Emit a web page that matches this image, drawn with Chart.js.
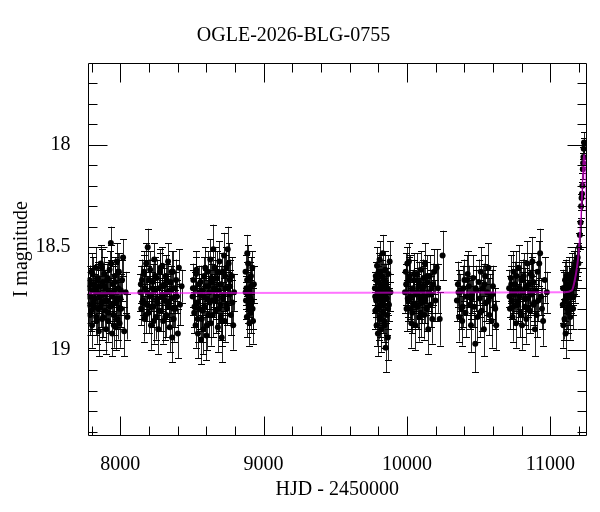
<!DOCTYPE html>
<html>
<head>
<meta charset="utf-8">
<script src="https://cdn.jsdelivr.net/npm/chart.js"></script>
<style>
  html, body { margin: 0; padding: 0; background: #fff; }
  canvas { display: block; }
</style>
</head>
<body>
<canvas id="myChart" width="600" height="512"></canvas>
<script>
// photometry, one set of arrays per observing season (HJD - 2450000, I mag, error)
const t1 = [7776, 7781, 7786, 7790, 7795, 7800, 7804, 7809, 7814, 7818, 7823, 7828, 7832, 7837, 7842, 7846, 7851, 7856, 7860, 7865, 7870, 7874, 7879, 7884, 7888, 7893, 7898, 7902, 7907, 7912, 7916, 7921, 7926, 7930, 7935, 7940, 7944, 7949, 7954, 7958, 7963, 7968, 7972, 7977, 7982, 7986, 7991, 7996, 8001, 8007, 8013, 8020, 8028, 8038, 8050,
            7778, 7788, 7798, 7807, 7816, 7826, 7835, 7844, 7853, 7863, 7872, 7881, 7891, 7900, 7909, 7919, 7928, 7937, 7947, 7956, 7965, 7975, 7984, 7994, 8004];
const m1 = [18.70, 18.78, 18.66, 18.83, 18.74, 18.62, 18.88, 18.71, 18.79, 18.68,
            18.75, 18.60, 18.84, 18.72, 18.66, 18.80, 18.91, 18.69, 18.74, 18.58,
            18.77, 18.85, 18.67, 18.73, 18.63, 18.81, 18.70, 18.90, 18.76, 18.65,
            18.86, 18.72, 18.61, 18.79, 18.48, 18.74, 18.92, 18.68, 18.83, 18.71,
            18.64, 18.89, 18.77, 18.57, 18.85, 18.70, 18.62, 18.87, 18.75, 18.80,
            18.66, 18.55, 18.91, 18.72, 18.84,
            18.74, 18.68, 18.81, 18.63, 18.77, 18.70, 18.86, 18.65, 18.73, 18.79,
            18.60, 18.84, 18.69, 18.76, 18.66, 18.82, 18.72, 18.58, 18.78, 18.88,
            18.67, 18.75, 18.62, 18.80, 18.71];
const e1 = [0.08, 0.09, 0.07, 0.10, 0.08, 0.09, 0.11, 0.07, 0.08, 0.09,
            0.08, 0.10, 0.09, 0.07, 0.08, 0.10, 0.12, 0.08, 0.07, 0.09,
            0.08, 0.10, 0.09, 0.07, 0.08, 0.09, 0.08, 0.12, 0.09, 0.08,
            0.10, 0.07, 0.09, 0.08, 0.08, 0.08, 0.11, 0.09, 0.10, 0.08,
            0.09, 0.11, 0.08, 0.09, 0.10, 0.08, 0.09, 0.12, 0.08, 0.09,
            0.10, 0.09, 0.12, 0.10, 0.11,
            0.08, 0.09, 0.10, 0.08, 0.09, 0.07, 0.11, 0.08, 0.09, 0.10,
            0.09, 0.10, 0.08, 0.09, 0.08, 0.10, 0.07, 0.09, 0.08, 0.11,
            0.09, 0.08, 0.09, 0.10, 0.08];

const t2 = [8141, 8147, 8152, 8158, 8164, 8169, 8175, 8181, 8186, 8192, 8198, 8203, 8209, 8215, 8220, 8226, 8232, 8237, 8243, 8249, 8254, 8260, 8266, 8271, 8277, 8283, 8288, 8294, 8300, 8305, 8311, 8317, 8322, 8328, 8334, 8339, 8345, 8351, 8356, 8362, 8368, 8373, 8379, 8385, 8390, 8396, 8402, 8409, 8417, 8428,
            8144, 8155, 8166, 8178, 8189, 8200, 8212, 8223, 8235, 8246, 8257, 8269, 8280, 8291, 8303, 8314, 8325, 8337, 8348, 8359, 8371, 8382];
const m2 = [18.72, 18.80, 18.66, 18.76, 18.63, 18.85, 18.70, 18.58, 18.78, 18.50,
            18.82, 18.74, 18.61, 18.88, 18.73, 18.67, 18.79, 18.56, 18.71, 18.84,
            18.65, 18.77, 18.90, 18.70, 18.62, 18.81, 18.74, 18.59, 18.86, 18.68,
            18.76, 18.64, 18.83, 18.72, 18.57, 18.79, 18.89, 18.67, 18.75, 18.94,
            18.62, 18.85, 18.70, 18.80, 18.66, 18.74, 18.92, 18.60, 18.78, 18.69,
            18.68, 18.77, 18.62, 18.83, 18.72, 18.66, 18.79, 18.70, 18.86, 18.64,
            18.75, 18.81, 18.60, 18.73, 18.69, 18.84, 18.66, 18.77, 18.71, 18.62,
            18.80, 18.74];
const e2 = [0.09, 0.08, 0.10, 0.07, 0.09, 0.11, 0.08, 0.10, 0.08, 0.09,
            0.10, 0.07, 0.09, 0.12, 0.08, 0.09, 0.10, 0.08, 0.07, 0.11,
            0.09, 0.08, 0.12, 0.07, 0.09, 0.10, 0.08, 0.09, 0.11, 0.08,
            0.09, 0.10, 0.11, 0.08, 0.09, 0.10, 0.12, 0.08, 0.09, 0.12,
            0.10, 0.11, 0.08, 0.09, 0.10, 0.08, 0.12, 0.09, 0.10, 0.08,
            0.09, 0.08, 0.10, 0.09, 0.08, 0.10, 0.09, 0.08, 0.11, 0.09,
            0.08, 0.10, 0.09, 0.08, 0.09, 0.11, 0.08, 0.09, 0.08, 0.10,
            0.09, 0.08];

const t3 = [8505, 8510, 8516, 8521, 8526, 8532, 8537, 8542, 8548, 8553, 8558, 8564, 8569, 8574, 8580, 8585, 8590, 8596, 8601, 8606, 8612, 8617, 8622, 8628, 8633, 8638, 8644, 8649, 8654, 8660, 8665, 8670, 8676, 8681, 8686, 8692, 8697, 8702, 8708, 8713, 8718, 8724, 8729, 8734, 8740, 8745, 8750, 8756, 8761, 8766, 8772, 8777, 8782, 8788, 8794,
            8507, 8518, 8529, 8540, 8550, 8561, 8572, 8582, 8593, 8604, 8614, 8625, 8636, 8646, 8657, 8668, 8678, 8689, 8700, 8710, 8721, 8732, 8742, 8753, 8764];
const m3 = [18.74, 18.66, 18.82, 18.70, 18.88, 18.61, 18.77, 18.92, 18.68, 18.80,
            18.73, 18.95, 18.85, 18.71, 18.90, 18.64, 18.79, 18.69, 18.93, 18.75,
            18.62, 18.83, 18.72, 18.56, 18.87, 18.67, 18.76, 18.51, 18.70, 18.60,
            18.81, 18.74, 18.65, 18.89, 18.71, 18.57, 18.78, 18.84, 18.94, 18.62,
            18.75, 18.54, 18.86, 18.70, 18.60, 18.80, 18.51, 18.58, 18.73, 18.69,
            18.83, 18.64, 18.77, 18.88, 18.72,
            18.70, 18.79, 18.63, 18.85, 18.72, 18.67, 18.81, 18.74, 18.60, 18.88,
            18.69, 18.77, 18.65, 18.83, 18.71, 18.76, 18.62, 18.80, 18.68, 18.86,
            18.73, 18.64, 18.78, 18.70, 18.66];
const e3 = [0.09, 0.08, 0.10, 0.08, 0.11, 0.09, 0.08, 0.12, 0.09, 0.10,
            0.08, 0.12, 0.11, 0.08, 0.12, 0.09, 0.10, 0.08, 0.12, 0.09,
            0.10, 0.11, 0.08, 0.10, 0.11, 0.09, 0.08, 0.12, 0.09, 0.10,
            0.11, 0.08, 0.09, 0.12, 0.08, 0.10, 0.09, 0.11, 0.12, 0.09,
            0.08, 0.11, 0.10, 0.09, 0.10, 0.08, 0.11, 0.10, 0.09, 0.08,
            0.10, 0.09, 0.11, 0.12, 0.09,
            0.09, 0.10, 0.08, 0.11, 0.09, 0.08, 0.10, 0.09, 0.10, 0.12,
            0.08, 0.09, 0.10, 0.11, 0.08, 0.09, 0.10, 0.11, 0.09, 0.12,
            0.08, 0.10, 0.09, 0.08, 0.10];

const t4 = [8874, 8877, 8880, 8883, 8886, 8889, 8892, 8895, 8898, 8901, 8904, 8907, 8910, 8913, 8917, 8921, 8926, 8932,
            8875, 8885, 8894, 8903, 8912, 8923];
const m4 = [18.62, 18.76, 18.70, 18.84, 18.53, 18.73, 18.58, 18.80, 18.71, 18.87, 18.65, 18.75, 18.82, 18.69, 18.77, 18.60, 18.86, 18.68,
            18.72, 18.66, 18.78, 18.74, 18.64, 18.80];
const e4 = [0.08, 0.09, 0.08, 0.10, 0.09, 0.08, 0.09, 0.10, 0.07, 0.11, 0.08, 0.09, 0.10, 0.08, 0.09, 0.08, 0.11, 0.09,
            0.08, 0.09, 0.09, 0.08, 0.09, 0.10];

const t5 = [9776, 9779, 9782, 9785, 9788, 9791, 9794, 9797, 9800, 9803, 9806, 9809, 9812, 9815, 9818, 9821, 9824, 9827, 9830, 9833, 9836, 9839, 9842, 9845, 9848, 9851, 9854, 9857, 9860, 9863, 9866, 9870, 9874, 9879, 9884,
            9778, 9784, 9790, 9796, 9802, 9808, 9814, 9820, 9826, 9832, 9838, 9844, 9850, 9858, 9868];
const m5 = [18.70, 18.81, 18.64, 18.76, 18.88, 18.59, 18.73, 18.92, 18.67, 18.79,
            18.71, 18.56, 18.84, 18.74, 18.62, 18.90, 18.69, 18.77, 18.53, 18.82,
            18.72, 18.66, 18.86, 18.74, 18.61, 18.99, 18.68, 18.75, 18.83, 18.70,
            18.94, 18.63, 18.78, 18.57, 18.72,
            18.74, 18.66, 18.80, 18.71, 18.62, 18.85, 18.69, 18.76, 18.64, 18.78,
            18.72, 18.88, 18.67, 18.75, 18.80];
const e5 = [0.08, 0.09, 0.07, 0.08, 0.10, 0.09, 0.07, 0.11, 0.08, 0.09,
            0.08, 0.09, 0.10, 0.07, 0.08, 0.11, 0.08, 0.09, 0.09, 0.10,
            0.07, 0.08, 0.10, 0.08, 0.09, 0.12, 0.08, 0.07, 0.10, 0.08,
            0.11, 0.09, 0.08, 0.10, 0.09,
            0.08, 0.09, 0.09, 0.08, 0.09, 0.10, 0.08, 0.09, 0.08, 0.09,
            0.08, 0.11, 0.09, 0.08, 0.10];

const t6 = [9986, 9991, 9997, 10002, 10008, 10013, 10019, 10024, 10030, 10036, 10041, 10047, 10052, 10058, 10064, 10069, 10075, 10080, 10086, 10092, 10097, 10103, 10108, 10114, 10120, 10125, 10131, 10136, 10142, 10148, 10153, 10159, 10164, 10170, 10176, 10182, 10190, 10198, 10207, 10216, 10228, 10248,
            9994, 10005, 10016, 10027, 10039, 10050, 10061, 10072, 10083, 10095, 10106, 10117, 10128, 10140, 10167];
const m6 = [18.72, 18.62, 18.80, 18.58, 18.76, 18.57, 18.64, 18.74, 18.87, 18.82,
            18.70, 18.78, 18.66, 18.88, 18.73, 18.63, 18.79, 18.69, 18.84, 18.75,
            18.61, 18.77, 18.71, 18.65, 18.83, 18.58, 18.74, 18.80, 18.67, 18.90,
            18.72, 18.64, 18.78, 18.70, 18.85, 18.68, 18.62, 18.76, 18.60, 18.70,
            18.85, 18.54,
            18.68, 18.75, 18.66, 18.80, 18.71, 18.63, 18.78, 18.72, 18.67, 18.82,
            18.74, 18.69, 18.76, 18.64, 18.73];
const e6 = [0.10, 0.09, 0.11, 0.08, 0.10, 0.09, 0.10, 0.11, 0.12, 0.10,
            0.09, 0.11, 0.10, 0.12, 0.09, 0.10, 0.11, 0.09, 0.12, 0.10,
            0.09, 0.10, 0.11, 0.09, 0.12, 0.10, 0.09, 0.11, 0.10, 0.12,
            0.09, 0.10, 0.11, 0.09, 0.12, 0.10, 0.11, 0.10, 0.09, 0.12,
            0.13, 0.12,
            0.10, 0.09, 0.11, 0.10, 0.09, 0.10, 0.11, 0.09, 0.10, 0.12,
            0.09, 0.10, 0.11, 0.10, 0.09];

const t7 = [10348, 10355, 10363, 10370, 10378, 10385, 10393, 10400, 10408, 10415, 10423, 10431, 10438, 10446, 10453, 10461, 10468, 10476, 10483, 10491, 10499, 10506, 10514, 10521, 10529, 10536, 10544, 10552, 10559, 10567, 10574, 10582, 10590, 10599, 10610, 10622,
            10359, 10389, 10419, 10449, 10479, 10509, 10540, 10570, 10594, 10615];
const m7 = [18.76, 18.68, 18.84, 18.72, 18.80, 18.86, 18.70, 18.66, 18.82, 18.74,
            18.63, 18.69, 18.78, 18.88, 18.73, 18.65, 18.79, 18.97, 18.71, 18.84,
            18.67, 18.75, 18.62, 18.81, 18.70, 18.90, 18.64, 18.77, 18.72, 18.60,
            18.83, 18.74, 18.86, 18.69, 18.79, 18.88,
            18.72, 18.79, 18.66, 18.75, 18.70, 18.82, 18.68, 18.76, 18.73, 18.80];
const e7 = [0.10, 0.11, 0.12, 0.09, 0.10, 0.12, 0.11, 0.10, 0.12, 0.09,
            0.11, 0.10, 0.12, 0.13, 0.09, 0.11, 0.10, 0.14, 0.10, 0.12,
            0.11, 0.09, 0.12, 0.10, 0.11, 0.13, 0.10, 0.09, 0.11, 0.12,
            0.10, 0.11, 0.13, 0.10, 0.09, 0.12,
            0.11, 0.10, 0.12, 0.10, 0.11, 0.12, 0.10, 0.11, 0.12, 0.10];

const t8 = [10712, 10718, 10724, 10730, 10736, 10742, 10748, 10754, 10760, 10766, 10772, 10778, 10784, 10790, 10796, 10802, 10808, 10814, 10820, 10826, 10832, 10838, 10844, 10850, 10856, 10862, 10868, 10874, 10880, 10886, 10892, 10898, 10904, 10910, 10916, 10922, 10928, 10934, 10941, 10949, 10960, 10975,
            10715, 10727, 10739, 10751, 10763, 10775, 10787, 10799, 10811, 10823, 10835, 10847, 10859, 10871, 10883];
const m8 = [18.70, 18.80, 18.65, 18.76, 18.84, 18.62, 18.73, 18.68, 18.87, 18.71,
            18.78, 18.60, 18.74, 18.82, 18.66, 18.88, 18.72, 18.64, 18.79, 18.70,
            18.85, 18.58, 18.75, 18.68, 18.81, 18.63, 18.73, 18.57, 18.67, 18.77,
            18.90, 18.71, 18.83, 18.62, 18.76, 18.58, 18.53, 18.74, 18.80, 18.86,
            18.66, 18.72,
            18.74, 18.68, 18.79, 18.71, 18.64, 18.77, 18.70, 18.83, 18.66, 18.75,
            18.69, 18.80, 18.72, 18.64, 18.78];
const e8 = [0.09, 0.10, 0.11, 0.09, 0.12, 0.10, 0.09, 0.11, 0.12, 0.10,
            0.09, 0.11, 0.10, 0.12, 0.09, 0.12, 0.10, 0.11, 0.09, 0.10,
            0.12, 0.11, 0.09, 0.10, 0.11, 0.10, 0.09, 0.12, 0.10, 0.09,
            0.13, 0.10, 0.11, 0.09, 0.10, 0.11, 0.12, 0.09, 0.10, 0.12,
            0.11, 0.10,
            0.10, 0.09, 0.11, 0.10, 0.12, 0.09, 0.10, 0.11, 0.10, 0.09,
            0.12, 0.10, 0.11, 0.09, 0.10];

const t9 = [11086, 11090, 11094, 11098, 11102, 11106, 11110, 11114, 11118, 11122,
            11126, 11130, 11134, 11138, 11142, 11146, 11150, 11154, 11158, 11162,
            11166, 11170, 11174, 11178, 11182, 11186, 11190, 11195, 11200, 11205,
            11210, 11214, 11217, 11220, 11223, 11226, 11228, 11230, 11232, 11234,
            11088, 11100, 11112, 11124, 11136, 11148, 11160, 11180];
const m9 = [18.78, 18.88, 18.70, 18.85, 18.66, 18.92, 18.74, 18.68, 18.80, 18.72,
            18.64, 18.78, 18.70, 18.84, 18.66, 18.74, 18.62, 18.70, 18.80, 18.64,
            18.60, 18.68, 18.58, 18.65, 18.56, 18.61, 18.55, 18.58, 18.50, 18.44,
            18.38, 18.30, 18.26, 18.24, 18.20, 18.12, 18.09, 18.06, 18.02, 17.99,
            18.70, 18.76, 18.64, 18.82, 18.72, 18.68, 18.74, 18.63];
const e9 = [0.09, 0.11, 0.08, 0.10, 0.09, 0.12, 0.08, 0.09, 0.10, 0.08,
            0.09, 0.10, 0.08, 0.11, 0.09, 0.08, 0.09, 0.08, 0.10, 0.09,
            0.08, 0.09, 0.08, 0.09, 0.08, 0.09, 0.07, 0.08, 0.07, 0.07,
            0.06, 0.06, 0.06, 0.06, 0.06, 0.05, 0.05, 0.05, 0.05, 0.05,
            0.09, 0.10, 0.08, 0.10, 0.09, 0.08, 0.09, 0.08];

// microlensing model curve (magenta)
const modelT   = [7772, 11100, 11150, 11170, 11185, 11195, 11203, 11210, 11216, 11222, 11227, 11231, 11235, 11239, 11244, 11249, 11255];
const modelMag = [18.725, 18.72, 18.71, 18.66, 18.60, 18.54, 18.47, 18.39, 18.31, 18.22, 18.14, 18.08, 18.05, 18.07, 18.14, 18.26, 18.40];

const xTicks = [8000, 9000, 10000, 11000];
const yTicks = [18, 18.5, 19];

const seasons = [[t1, m1, e1], [t2, m2, e2], [t3, m3, e3], [t4, m4, e4], [t5, m5, e5],
                 [t6, m6, e6], [t7, m7, e7], [t8, m8, e8], [t9, m9, e9]];
const points = [];
seasons.forEach(([ts, ms, es]) => {
    ts.forEach((t, i) => points.push({ x: t, y: ms[i], e: es[i] }));
});
const model = modelT.map((t, i) => ({ x: t, y: modelMag[i] }));

const serif = "'Liberation Serif', 'Times New Roman', serif";

// error bars go under the dots
const errorBars = {
    id: 'errorBars',
    beforeDatasetsDraw(chart) {
        const { ctx, chartArea: a, scales: { x, y } } = chart;
        ctx.save();
        ctx.beginPath();
        ctx.rect(a.left, a.top, a.right - a.left, a.bottom - a.top);
        ctx.clip();
        ctx.lineWidth = 1;
        ctx.strokeStyle = 'rgba(0,0,0,0.85)';
        ctx.beginPath();
        points.forEach((p) => {
            const px = Math.round(x.getPixelForValue(p.x)) + 0.5;
            ctx.moveTo(px, y.getPixelForValue(p.y - p.e));
            ctx.lineTo(px, y.getPixelForValue(p.y + p.e));
        });
        ctx.stroke();
        ctx.strokeStyle = '#000';
        ctx.beginPath();
        points.forEach((p) => {
            const px = Math.round(x.getPixelForValue(p.x)) + 0.5;
            const y1 = Math.round(y.getPixelForValue(p.y - p.e)) + 0.5;
            const y2 = Math.round(y.getPixelForValue(p.y + p.e)) + 0.5;
            ctx.moveTo(px - 3.5, y1); ctx.lineTo(px + 3.5, y1);
            ctx.moveTo(px - 3.5, y2); ctx.lineTo(px + 3.5, y2);
        });
        ctx.stroke();
        ctx.restore();
    }
};

// box frame with inward ticks on all four sides
const frameTicks = {
    id: 'frameTicks',
    afterDraw(chart) {
        const { ctx, chartArea: a, scales: { x, y } } = chart;
        const L = Math.round(a.left) + 0.5, R = Math.round(a.right) - 0.5;
        const T = Math.round(a.top) + 0.5, B = Math.round(a.bottom) - 0.5;
        ctx.save();
        ctx.strokeStyle = '#000';
        ctx.lineWidth = 1;
        ctx.beginPath();
        ctx.rect(L, T, R - L, B - T);
        for (let v = 7800; v <= 11200; v += 200) {
            const len = v % 1000 === 0 ? 19 : 9;
            const px = Math.round(x.getPixelForValue(v)) + 0.5;
            ctx.moveTo(px, B); ctx.lineTo(px, B - len);
            ctx.moveTo(px, T); ctx.lineTo(px, T + len);
        }
        for (let k = 177; k <= 194; k++) {
            const len = k % 5 === 0 ? 19 : 9;
            const py = Math.round(y.getPixelForValue(k / 10)) + 0.5;
            ctx.moveTo(L, py); ctx.lineTo(L + len, py);
            ctx.moveTo(R, py); ctx.lineTo(R - len, py);
        }
        ctx.stroke();
        ctx.restore();
    }
};

const myChart = new Chart(document.getElementById('myChart'), {
    type: 'scatter',
    data: {
        datasets: [
            {
                type: 'line',
                data: model,
                borderColor: 'rgba(255,0,255,0.55)',
                borderWidth: 2,
                pointRadius: 0,
                cubicInterpolationMode: 'monotone',
                fill: false
            },
            {
                data: points,
                backgroundColor: '#000',
                borderColor: '#000',
                borderWidth: 0,
                pointRadius: 3
            }
        ]
    },
    options: {
        responsive: false,
        animation: false,
        layout: { padding: { left: 0, right: 13, top: 0, bottom: 0 } },
        plugins: {
            legend: { display: false },
            tooltip: { enabled: false },
            title: {
                display: true,
                text: 'OGLE-2026-BLG-0755',
                color: '#000',
                font: { family: serif, size: 20, weight: 'normal' },
                padding: { top: 23.5, bottom: 15 }
            }
        },
        scales: {
            x: {
                type: 'linear',
                min: 7772,
                max: 11255,
                grid: { display: false },
                border: { display: false },
                afterBuildTicks: (s) => { s.ticks = xTicks.map((v) => ({ value: v })); },
                afterFit: (s) => { s.height = 76; },
                ticks: {
                    color: '#000',
                    font: { family: serif, size: 20 },
                    padding: 9,
                    maxRotation: 0,
                    callback: (v) => String(v)
                },
                title: {
                    display: true,
                    text: 'HJD - 2450000',
                    color: '#000',
                    font: { family: serif, size: 20 },
                    padding: { top: 0, bottom: 10 }
                }
            },
            y: {
                type: 'linear',
                reverse: true,
                min: 17.6,
                max: 19.42,
                grid: { display: false },
                border: { display: false },
                afterBuildTicks: (s) => { s.ticks = yTicks.map((v) => ({ value: v })); },
                afterFit: (s) => { s.width = 87.5; },
                ticks: {
                    color: '#000',
                    font: { family: serif, size: 20 },
                    padding: 9,
                    callback: (v) => String(v)
                },
                title: {
                    display: true,
                    text: 'I magnitude',
                    color: '#000',
                    font: { family: serif, size: 20 },
                    padding: { top: 10, bottom: 0 }
                }
            }
        }
    },
    plugins: [errorBars, frameTicks]
});
</script>
</body>
</html>
